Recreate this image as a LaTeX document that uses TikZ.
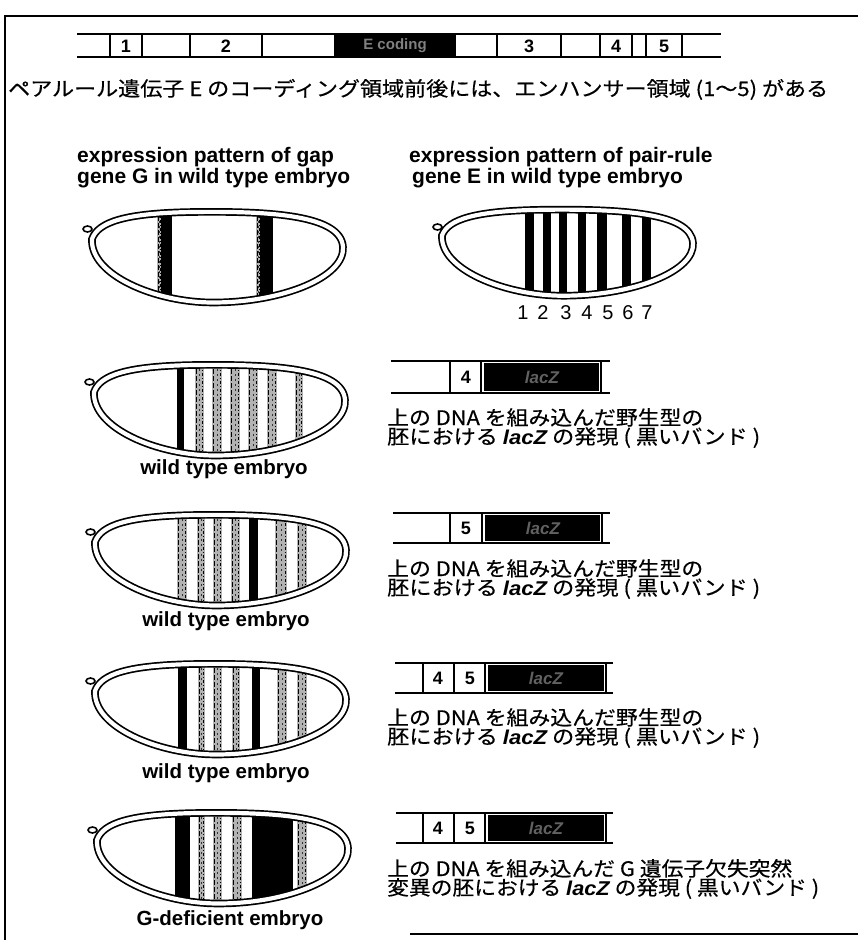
\documentclass[tikz,border=0pt]{standalone}
\usepackage{graphicx}
\usepackage{fontspec}
\setmainfont{Liberation Sans}
\newfontfamily\jp{Noto Sans CJK JP}[FakeBold=0.4]
\newfontfamily\lat{Liberation Sans}
\newcommand\lz{{\lat\bfseries\itshape lacZ}}
% a line of Japanese text set to a given width
\newcommand\jw[2]{\resizebox{#1pt}{\height}{#2}}
% outline of an embryo, local coordinates (1 unit = 1pt, y downwards)
\newcommand\embpath{(9,32) .. controls (15,15) and (42,6) .. (110,5) .. controls (188,4) and (258,8) .. (260,40) .. controls (262,70) and (200,95.5) .. (130,95.5) .. controls (72,95.5) and (7,68) .. (9,32) -- cycle}
% solid band and stippled band, given in page x coordinates
\newcommand\blk[2]{\fill[black] ({#1-\exo},-5) rectangle ({#2-\exo},105);}
\newcommand\stip[2]{%
  \fill[black!30] ({#1-\exo},-5) rectangle ({#2-\exo},105);
  \draw[line width=1.2pt,dash pattern=on 5pt off 2pt] ({#1-\exo+1.2},-5) -- ({#1-\exo+1.2},105);
  \draw[line width=1.2pt,dash pattern=on 3pt off 2pt on 1pt off 2pt] ({#2-\exo-1.2},-3) -- ({#2-\exo-1.2},105);
  \draw[line width=0.9pt,black!80,dash pattern=on 2pt off 3pt] ({(#1+#2)/2-\exo},-1) -- ({(#1+#2)/2-\exo},105);}
% embryo: x0, y0, vertical scale, bands
\newcommand\embryo[4]{%
  \begin{scope}[shift={(#1,#2)}]
    \def\exo{#1}
    \draw[line width=1.6pt,fill=white] (4.5,22) ellipse [x radius=4.5, y radius=3];
    \begin{scope}[yscale=#3]
      \begin{scope}
        \clip \embpath;
        #4
      \end{scope}
      \draw[line width=1.7pt,double=white,double distance=4.2pt] \embpath;
    \end{scope}
  \end{scope}}
\tikzset{
  bar/.style={line width=1.6pt},
  dig/.style={font=\fontsize{18}{18}\selectfont\bfseries, inner sep=0pt},
  head/.style={font=\fontsize{21}{21}\selectfont\bfseries, anchor=base west, inner sep=0pt},
  embcap/.style={font=\fontsize{20.5}{20.5}\selectfont\bfseries, anchor=base, inner sep=0pt},
  jtext/.style={font=\jp\fontsize{20}{20}\selectfont, anchor=base west, inner sep=0pt},
  num/.style={font=\fontsize{20}{20}\selectfont, inner sep=0pt},
  lzbox/.style={font=\fontsize{17}{17}\selectfont\bfseries\itshape, text=black!62, inner sep=0pt},
}
\begin{document}
\begin{tikzpicture}[x=1pt,y=-1pt]
\useasboundingbox (0,0) rectangle (858,940);
\fill[white] (0,0) rectangle (858,940);

% frame
\draw[line width=1.5pt] (858,16) -- (5,16) -- (5,940);
\draw[line width=1.5pt] (410,934) -- (858,934);

% gene E locus with enhancers 1-5
\draw[bar] (77,34) -- (721,34) (77,57) -- (721,57);
\foreach \x in {110,142,190,262,335,455,497,561,600,632,646,682}
  \draw[bar] (\x,34) -- (\x,57);
\fill[black] (336,35) rectangle (454,56);
\node[dig] (t1) at (126,46) {1};
\node[dig] (t2) at (226,46) {2};
\node[font=\fontsize{15}{15}\selectfont\bfseries, text=black!50, inner sep=0pt] (tE) at (395,46) {E coding};
\node[dig] (t3) at (529,46) {3};
\node[dig] (t4) at (616,46) {4};
\node[dig] (t5) at (664,46) {5};
\node[jtext] (sub) at (8,96)
  {\jw{820}{ペアルール遺伝子 E のコーディング領域前後には、エンハンサー領域 (1～5) がある}};

% headings
\node[head] (hl1) at (77,162) {expression pattern of gap};
\node[head] (hl2) at (77,183) {gene G in wild type embryo};
\node[head] (hr1) at (409,162) {expression pattern of pair-rule};
\node[head] (hr2) at (412,183) {gene E in wild type embryo};

% gap gene G
\embryo{83}{207}{1}{\stip{157}{162}\blk{161}{172}\stip{256}{261}\blk{260}{273}}
% pair-rule gene E
\embryo{433}{205}{0.95}{\blk{525}{534}\blk{543}{551}\blk{559}{567}\blk{578}{586}\blk{597}{607}\blk{622}{631}\blk{642}{651}}
\foreach \n/\x in {1/523,2/543,3/566,4/587,5/608,6/628,7/647}
  \node[num] (s\n) at (\x,313) {\n};

% enhancer 4
\embryo{85}{360}{1}{\blk{177}{184}\stip{195}{204}\stip{212}{222}\stip{230}{240}\stip{248}{258}\stip{267}{277}\stip{295}{303}}
\node[embcap] (l3) at (224,474) {wild type embryo};
\draw[bar] (391,361) -- (610,361) (391,393) -- (610,393);
\draw[bar] (450,361) -- (450,393) (481,361) -- (481,393) (601,361) -- (601,393);
\fill[black] (484,363) rectangle (599,391);
\node[dig] (r1a) at (466,377) {4};
\node[lzbox] (r1z) at (542,377) {lacZ};
\node[jtext] (r1t1) at (387,425) {\jw{316}{上の DNA を組み込んだ野生型の}};
\node[jtext] (r1t2) at (387,444) {\jw{373}{胚における \lz{} の発現 ( 黒いバンド )}};

% enhancer 5
\embryo{86}{510}{1}{\stip{177}{187}\stip{197}{205}\stip{213}{222}\stip{231}{240}\blk{249}{258}\stip{275}{287}\stip{297}{307}}
\node[embcap] (l4) at (226,626) {wild type embryo};
\draw[bar] (393,513) -- (610,513) (393,543) -- (610,543);
\draw[bar] (450,513) -- (450,543) (482,513) -- (482,543) (602,513) -- (602,543);
\fill[black] (485,515) rectangle (600,541);
\node[dig] (r2a) at (466,528) {5};
\node[lzbox] (r2z) at (543,528) {lacZ};
\node[jtext] (r2t1) at (387,576) {\jw{316}{上の DNA を組み込んだ野生型の}};
\node[jtext] (r2t2) at (387,595) {\jw{373}{胚における \lz{} の発現 ( 黒いバンド )}};

% enhancers 4 and 5, wild type
\embryo{86}{659}{1}{\blk{178}{187}\stip{198}{205}\stip{213}{222}\stip{232}{240}\blk{252}{260}\stip{277}{287}\stip{297}{307}}
\node[embcap] (l5) at (226,778) {wild type embryo};
\draw[bar] (395,663) -- (613,663) (395,693) -- (613,693);
\draw[bar] (423,663) -- (423,693) (454,663) -- (454,693) (485,663) -- (485,693) (606,663) -- (606,693);
\fill[black] (488,665) rectangle (604,691);
\node[dig] (r3a) at (438,678) {4};
\node[dig] (r3b) at (470,678) {5};
\node[lzbox] (r3z) at (546,678) {lacZ};
\node[jtext] (r3t1) at (387,725) {\jw{316}{上の DNA を組み込んだ野生型の}};
\node[jtext] (r3t2) at (387,744) {\jw{373}{胚における \lz{} の発現 ( 黒いバンド )}};

% enhancers 4 and 5, G-deficient
\embryo{88}{808}{1}{\blk{175}{190}\stip{198}{205}\stip{213}{222}\stip{232}{242}\blk{252}{293}\stip{297}{307}}
\node[embcap] (l6) at (230,925) {G-deficient embryo};
\draw[bar] (396,813) -- (613,813) (396,843) -- (613,843);
\draw[bar] (423,813) -- (423,843) (454,813) -- (454,843) (485,813) -- (485,843) (606,813) -- (606,843);
\fill[black] (488,815) rectangle (604,841);
\node[dig] (r4a) at (438,828) {4};
\node[dig] (r4b) at (470,828) {5};
\node[lzbox] (r4z) at (546,828) {lacZ};
\node[jtext] (r4t1) at (387,876) {\jw{405}{上の DNA を組み込んだ G 遺伝子欠失突然}};
\node[jtext] (r4t2) at (387,895) {\jw{432}{変異の胚における \lz{} の発現 ( 黒いバンド )}};
\end{tikzpicture}
\end{document}
